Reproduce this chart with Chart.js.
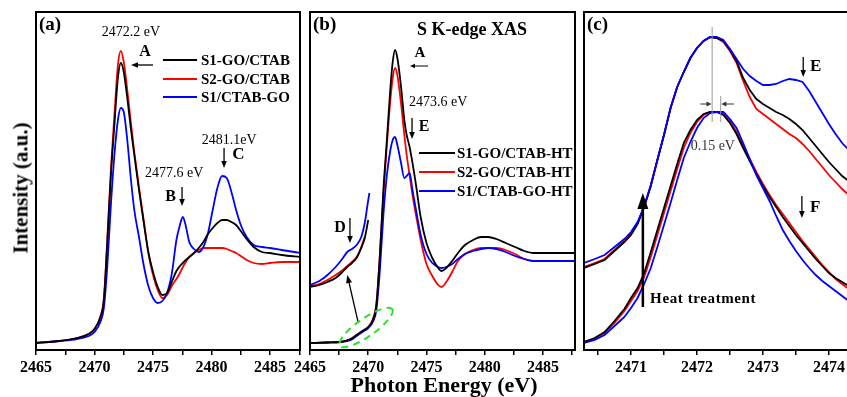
<!DOCTYPE html>
<html>
<head>
<meta charset="utf-8">
<script src="https://cdn.jsdelivr.net/npm/chart.js@4.4.0/dist/chart.umd.min.js"></script>
<style>
  html, body { margin: 0; padding: 0; background: #fff; }
  body { width: 847px; height: 397px; overflow: hidden; position: relative; }
  canvas { position: absolute; top: 0; }
  #ylab { position: absolute; left: 21px; top: 188px; transform: translate(-50%, -50%) rotate(-90deg);
          font: bold 21px "Liberation Serif", serif; white-space: nowrap; color: #000; }
  #xlab { position: absolute; left: 444px; top: 385px; transform: translate(-50%, -50%);
          font: bold 22px "Liberation Serif", serif; white-space: nowrap; color: #000; }
</style>
</head>
<body>
<canvas id="ca" width="310" height="397" style="left:0px"></canvas>
<canvas id="cb" width="295" height="397" style="left:290px"></canvas>
<canvas id="cc" width="300" height="397" style="left:570px"></canvas>
<div id="ylab">Intensity (a.u.)</div>
<div id="xlab">Photon Energy (eV)</div>
<script>
// panel (a) - as prepared
const energyA = [2465, 2467, 2468.5, 2469.5, 2470, 2470.5, 2470.8, 2471.1, 2471.4, 2471.7, 2472.0, 2472.25,
  2472.5, 2472.8, 2473.1, 2473.4, 2473.8, 2474.2, 2474.6, 2475.0, 2475.4, 2475.8, 2476.2, 2476.6, 2477.0,
  2477.3, 2477.55, 2477.8, 2478.1, 2478.5, 2478.9, 2479.3, 2479.7, 2480.1, 2480.5, 2480.9, 2481.3, 2481.7,
  2482.1, 2482.5, 2483.0, 2483.6, 2484.3, 2485.0, 2486.0, 2487.6];
const s1GoCtab = [0.07, 0.09, 0.12, 0.16, 0.21, 0.33, 0.50, 1.10, 1.75, 2.25, 2.72, 2.87, 2.78, 2.52, 2.22,
  1.95, 1.60, 1.28, 0.98, 0.78, 0.63, 0.55, 0.57, 0.68, 0.79, 0.84, 0.87, 0.90, 0.93, 0.97, 1.02, 1.08,
  1.16, 1.22, 1.27, 1.30, 1.30, 1.28, 1.25, 1.19, 1.11, 1.03, 0.98, 0.97, 0.95, 0.93];
const s2GoCtab = [0.07, 0.09, 0.12, 0.16, 0.21, 0.33, 0.52, 1.12, 1.80, 2.35, 2.85, 2.99, 2.88, 2.60, 2.28,
  1.98, 1.63, 1.30, 0.97, 0.75, 0.60, 0.52, 0.55, 0.64, 0.71, 0.77, 0.83, 0.88, 0.93, 0.97, 1.00, 1.02,
  1.02, 1.02, 1.02, 1.02, 1.01, 0.99, 0.97, 0.94, 0.90, 0.87, 0.86, 0.87, 0.88, 0.88];
const s1CtabGo = [0.07, 0.09, 0.11, 0.14, 0.18, 0.28, 0.42, 0.85, 1.45, 1.95, 2.30, 2.42, 2.38, 2.10, 1.72,
  1.40, 1.13, 0.85, 0.64, 0.52, 0.47, 0.49, 0.57, 0.76, 1.10, 1.25, 1.33, 1.24, 1.08, 1.01, 0.98, 1.03,
  1.17, 1.40, 1.62, 1.74, 1.72, 1.58, 1.40, 1.25, 1.13, 1.05, 1.03, 1.02, 1.00, 0.97];

// panel (b) - heat treated
const energyB = [2465, 2466.5, 2467.6, 2468.5, 2469.0, 2469.5, 2470.0, 2470.4, 2470.7, 2471.0, 2471.3, 2471.6,
  2471.9, 2472.1, 2472.3, 2472.5, 2472.8, 2473.1, 2473.3, 2473.55, 2473.8, 2474.1, 2474.5, 2475.0, 2475.5,
  2476.0, 2476.3, 2476.7, 2477.2, 2477.7, 2478.3, 2479.0, 2479.7, 2480.3, 2481.0, 2481.8, 2482.6, 2483.4,
  2484.2, 2485.0, 2486.0, 2487.7];
const s1GoCtabHT = [0.07, 0.075, 0.08, 0.11, 0.15, 0.19, 0.23, 0.30, 0.45, 0.95, 1.60, 2.10, 2.62, 2.88, 3.00,
  2.92, 2.65, 2.30, 2.15, 2.03, 1.87, 1.65, 1.33, 1.07, 0.92, 0.82, 0.79, 0.82, 0.89, 0.97, 1.05, 1.10, 1.13,
  1.13, 1.11, 1.07, 1.03, 0.99, 0.97, 0.97, 0.97, 0.97];
const s2GoCtabHT = [0.07, 0.075, 0.08, 0.11, 0.15, 0.19, 0.23, 0.31, 0.47, 0.95, 1.55, 2.05, 2.50, 2.72, 2.82,
  2.75, 2.48, 2.15, 1.95, 1.75, 1.55, 1.35, 1.10, 0.86, 0.74, 0.65, 0.63, 0.68, 0.78, 0.89, 0.96, 1.00, 1.02,
  1.02, 1.02, 1.00, 0.96, 0.91, 0.89, 0.89, null, null];
const s1CtabGoHT = [0.07, 0.075, 0.08, 0.10, 0.14, 0.18, 0.22, 0.28, 0.40, 0.80, 1.35, 1.75, 2.00, 2.10, 2.13,
  2.05, 1.88, 1.72, 1.74, 1.77, 1.60, 1.40, 1.15, 0.96, 0.87, 0.83, 0.82, 0.83, 0.86, 0.91, 0.96, 0.99, 1.01,
  1.02, 1.01, 0.98, 0.94, 0.91, 0.89, 0.89, 0.89, 0.89];
// pre-edge zoom (upper curves in b)
const energyPre = [2465, 2465.8, 2466.5, 2467.2, 2467.7, 2468.2, 2468.6, 2469.0, 2469.4, 2469.7, 2470.0, 2470.1];
const s1GoCtabHTPre = [0.63, 0.65, 0.68, 0.72, 0.77, 0.83, 0.87, 0.92, 1.02, 1.12, 1.30, null];
const s2GoCtabHTPre = [0.64, 0.66, 0.70, 0.75, 0.79, 0.84, 0.88, 0.93, 1.03, 1.13, null, null];
const s1CtabGoHTPre = [0.65, 0.69, 0.75, 0.83, 0.90, 0.98, 1.01, 1.05, 1.13, 1.27, 1.50, 1.57];

// panel (c) - white line region
const energyC = [2470.29, 2470.45, 2470.6, 2470.75, 2470.9,
  2471.0, 2471.1, 2471.2, 2471.3, 2471.4, 2471.5, 2471.6, 2471.7, 2471.8, 2471.9,
  2472.0, 2472.1, 2472.2, 2472.3, 2472.4, 2472.5, 2472.6, 2472.7, 2472.8, 2472.9,
  2473.0, 2473.1, 2473.2, 2473.3, 2473.4, 2473.5, 2473.6, 2473.7, 2473.8, 2473.9,
  2474.0, 2474.1, 2474.2, 2474.3];
const cBlackTop = [0.82, 0.86, 0.90, 0.99, 1.08, 1.15, 1.26, 1.43, 1.64, 1.90, 2.15, 2.42, 2.63, 2.78, 2.92,
  3.02, 3.09, 3.13, 3.12, 3.09, 3.00, 2.89, 2.72, 2.60, 2.51, 2.46, 2.42, 2.38, 2.35, 2.31, 2.26, 2.20, 2.12,
  2.04, 1.96, 1.88, 1.81, 1.74, 1.69];
const cRedTop = [0.83, 0.87, 0.91, 1.00, 1.09, 1.16, 1.27, 1.43, 1.64, 1.90, 2.15, 2.42, 2.63, 2.78, 2.92,
  3.02, 3.09, 3.13, 3.12, 3.08, 2.99, 2.87, 2.69, 2.53, 2.41, 2.36, 2.31, 2.26, 2.21, 2.16, 2.12, 2.06, 1.99,
  1.91, 1.83, 1.75, 1.68, 1.61, 1.55];
const cBlueTop = [0.87, 0.91, 0.95, 1.03, 1.11, 1.18, 1.28, 1.44, 1.65, 1.90, 2.15, 2.42, 2.63, 2.78, 2.92,
  3.02, 3.09, 3.13, 3.13, 3.10, 3.01, 2.91, 2.81, 2.74, 2.69, 2.65, 2.65, 2.66, 2.69, 2.71, 2.70, 2.68, 2.59,
  2.48, 2.37, 2.26, 2.16, 2.07, 2.00];
const cBlackLow = [0.08, 0.12, 0.18, 0.29, 0.41, 0.52, 0.62, 0.77, 0.98, 1.20, 1.42, 1.64, 1.86, 2.07, 2.20,
  2.30, 2.36, 2.38, 2.38, 2.35, 2.27, 2.16, 2.02, 1.89, 1.76, 1.64, 1.53, 1.43, 1.33, 1.24, 1.15, 1.07, 0.99,
  0.91, 0.84, 0.77, 0.72, 0.68, 0.64];
const cRedLow = [0.08, 0.11, 0.17, 0.27, 0.39, 0.49, 0.59, 0.73, 0.93, 1.15, 1.37, 1.59, 1.81, 2.02, 2.17,
  2.28, 2.35, 2.38, 2.38, 2.36, 2.29, 2.18, 2.04, 1.91, 1.78, 1.66, 1.55, 1.45, 1.36, 1.27, 1.18, 1.09, 1.01,
  0.93, 0.85, 0.78, 0.71, 0.66, 0.61];
const cBlueLow = [0.07, 0.10, 0.15, 0.24, 0.33, 0.42, 0.52, 0.66, 0.82, 1.03, 1.25, 1.47, 1.70, 1.92, 2.08,
  2.22, 2.32, 2.37, 2.38, 2.38, 2.31, 2.22, 2.07, 1.91, 1.75, 1.62, 1.49, 1.34, 1.20, 1.09, 0.99, 0.90, 0.82,
  0.75, 0.69, 0.64, 0.59, 0.54, 0.49];

const majorTicksAB = [2465, 2470, 2475, 2480, 2485];
const majorTicksC = [2471, 2472, 2473, 2474];
const labelsA = ['S1-GO/CTAB', 'S2-GO/CTAB', 'S1/CTAB-GO'];
const labelsB = ['S1-GO/CTAB-HT', 'S2-GO/CTAB-HT', 'S1/CTAB-GO-HT'];

const BLACK = '#000000', RED = '#ff0000', BLUE = '#0000ff';
const SERIF = '"Liberation Serif", "Times New Roman", serif';
const COLORS = [BLACK, RED, BLUE];

const pts = (xs, ys) => xs.map((x, i) => ({ x: x, y: ys[i] }));

function series(label, xs, ys, color, order, tension) {
  return {
    label: label, data: pts(xs, ys), borderColor: color, backgroundColor: color,
    borderWidth: 1.8, pointRadius: 0, fill: false, order: order,
    tension: tension, cubicInterpolationMode: tension ? 'monotone' : 'default'
  };
}

// annotations, placed in data units (eV, intensity)
const notes = {
  ca: {
    tag: '(a)',
    legend: { labels: labelsA, x1: 2475.85, x2: 2478.76, tx: 2479.1, ys: [2.90, 2.71, 2.53] },
    items: [
      { t: 'text', x: 2473.12, y: 3.18, s: '2472.2 eV', f: '14px' },
      { t: 'text', x: 2474.32, y: 2.98, s: 'A', f: 'bold 16px' },
      { t: 'arrow', x1: 2475.0, y1: 2.85, x2: 2473.12, y2: 2.85 },
      { t: 'text', x: 2476.8, y: 1.77, s: '2477.6 eV', f: '14px' },
      { t: 'text', x: 2476.5, y: 1.53, s: 'B', f: 'bold 16px' },
      { t: 'arrow', x1: 2477.48, y1: 1.63, x2: 2477.48, y2: 1.44 },
      { t: 'text', x: 2481.5, y: 2.10, s: '2481.1eV', f: '14px' },
      { t: 'arrow', x1: 2481.07, y1: 2.02, x2: 2481.07, y2: 1.82 },
      { t: 'text', x: 2482.3, y: 1.95, s: 'C', f: 'bold 17px' }
    ]
  },
  cb: {
    tag: '(b)',
    legend: { labels: labelsB, x1: 2474.36, x2: 2477.45, tx: 2477.62, ys: [1.97, 1.78, 1.59] },
    items: [
      { t: 'text', x: 2478.9, y: 3.20, s: 'S K-edge XAS', f: 'bold 18px' },
      { t: 'text', x: 2474.44, y: 2.97, s: 'A', f: 'bold 15px' },
      { t: 'arrow', x1: 2475.13, y1: 2.84, x2: 2473.58, y2: 2.84, hl: 5, hw: 2.2, lw: 1 },
      { t: 'text', x: 2476.0, y: 2.48, s: '2473.6 eV', f: '14px' },
      { t: 'arrow', x1: 2473.76, y1: 2.32, x2: 2473.76, y2: 2.11 },
      { t: 'text', x: 2474.79, y: 2.23, s: 'E', f: 'bold 16px' },
      { t: 'text', x: 2467.58, y: 1.22, s: 'D', f: 'bold 16px' },
      { t: 'arrow', x1: 2468.43, y1: 1.32, x2: 2468.43, y2: 1.07 },
      { t: 'arrow', x1: 2469.12, y1: 0.283, x2: 2468.2, y2: 0.75, hl: 8, hw: 3 },
      { t: 'ellipse', x: 2469.81, y: 0.225, rx: 32, ry: 9, rot: -0.61 }
    ]
  },
  cc: {
    tag: '(c)',
    items: [
      { t: 'vline', x: 2472.23, y1: 3.23, y2: 2.28 },
      { t: 'vline', x: 2472.36, y1: 2.54, y2: 2.28 },
      { t: 'arrow', x1: 2472.05, y1: 2.46, x2: 2472.22, y2: 2.46, hl: 5, hw: 2.5, lw: 1, c: '#333' },
      { t: 'arrow', x1: 2472.56, y1: 2.46, x2: 2472.37, y2: 2.46, hl: 5, hw: 2.5, lw: 1, c: '#333' },
      { t: 'text', x: 2472.24, y: 2.04, s: '0.15 eV', f: '14px', c: '#333' },
      { t: 'arrow', x1: 2473.61, y1: 2.93, x2: 2473.61, y2: 2.73 },
      { t: 'text', x: 2473.8, y: 2.83, s: 'E', f: 'bold 17px' },
      { t: 'arrow', x1: 2473.59, y1: 1.54, x2: 2473.59, y2: 1.32 },
      { t: 'text', x: 2473.79, y: 1.42, s: 'F', f: 'bold 17px' },
      { t: 'arrow', x1: 2471.18, y1: 0.43, x2: 2471.18, y2: 1.57, hl: 16, hw: 5.5, lw: 2.5 },
      { t: 'text', x: 2471.29, y: 0.51, s: 'Heat treatment', f: 'bold 15px', a: 'left', sp: '0.6px' }
    ]
  }
};

function drawArrow(ctx, x1, y1, x2, y2, lw, hl, hw) {
  const ang = Math.atan2(y2 - y1, x2 - x1), c = Math.cos(ang), s = Math.sin(ang);
  ctx.lineWidth = lw;
  ctx.beginPath();
  ctx.moveTo(x1, y1);
  ctx.lineTo(x2 - c * hl * 0.7, y2 - s * hl * 0.7);
  ctx.stroke();
  ctx.beginPath();
  ctx.moveTo(x2, y2);
  ctx.lineTo(x2 - hl * c + hw * s, y2 - hl * s - hw * c);
  ctx.lineTo(x2 - hl * c - hw * s, y2 - hl * s + hw * c);
  ctx.closePath();
  ctx.fill();
}

const notesPlugin = {
  id: 'notes',
  afterDraw(chart) {
    const n = notes[chart.canvas.id];
    const ctx = chart.ctx, a = chart.chartArea;
    const X = v => chart.scales.x.getPixelForValue(v);
    const Y = v => chart.scales.y.getPixelForValue(v);
    ctx.save();
    ctx.strokeStyle = '#000';
    ctx.lineWidth = 2;
    ctx.strokeRect(a.left, a.top, a.right - a.left, a.bottom - a.top);

    ctx.fillStyle = '#000';
    ctx.textBaseline = 'middle';
    ctx.textAlign = 'left';
    ctx.font = 'bold 19px ' + SERIF;
    ctx.fillText(n.tag, a.left + 3, a.top + 13);

    if (n.legend) {
      const L = n.legend;
      ctx.font = 'bold 15px ' + SERIF;
      L.labels.forEach((lab, i) => {
        ctx.strokeStyle = COLORS[i];
        ctx.lineWidth = 2;
        ctx.beginPath();
        ctx.moveTo(X(L.x1), Y(L.ys[i]));
        ctx.lineTo(X(L.x2), Y(L.ys[i]));
        ctx.stroke();
        ctx.fillStyle = '#000';
        ctx.fillText(lab, X(L.tx), Y(L.ys[i]) + 1);
      });
    }

    for (const it of n.items) {
      const col = it.c || '#000';
      ctx.strokeStyle = col;
      ctx.fillStyle = col;
      if (it.t === 'text') {
        ctx.font = it.f + ' ' + SERIF;
        ctx.textAlign = it.a || 'center';
        ctx.letterSpacing = it.sp || '0px';
        ctx.fillText(it.s, X(it.x), Y(it.y));
        ctx.letterSpacing = '0px';
      } else if (it.t === 'arrow') {
        drawArrow(ctx, X(it.x1), Y(it.y1), X(it.x2), Y(it.y2), it.lw || 1.3, it.hl || 7, it.hw || 2.8);
      } else if (it.t === 'vline') {
        ctx.strokeStyle = '#999';
        ctx.lineWidth = 1;
        ctx.beginPath();
        ctx.moveTo(X(it.x), Y(it.y1));
        ctx.lineTo(X(it.x), Y(it.y2));
        ctx.stroke();
      } else if (it.t === 'ellipse') {
        ctx.strokeStyle = '#2ee02e';
        ctx.lineWidth = 2;
        ctx.setLineDash([7, 5]);
        ctx.beginPath();
        ctx.ellipse(X(it.x), Y(it.y), it.rx, it.ry, it.rot, 0, Math.PI * 2);
        ctx.stroke();
        ctx.setLineDash([]);
      }
    }
    ctx.restore();
  }
};

function makeChart(id, datasets, xmin, xmax, step, majors, padL, padR) {
  return new Chart(document.getElementById(id), {
    type: 'line',
    data: { datasets: datasets },
    options: {
      responsive: false,
      animation: false,
      layout: { padding: { left: padL, right: padR, top: 12, bottom: 0 } },
      plugins: { legend: { display: false }, tooltip: { enabled: false } },
      scales: {
        x: {
          type: 'linear', min: xmin, max: xmax,
          afterFit: s => { s.height = 47; },
          grid: { drawOnChartArea: false, drawTicks: true, tickLength: 5, color: '#000', lineWidth: 1.5 },
          border: { display: true, color: '#000', width: 2 },
          ticks: {
            stepSize: step, includeBounds: false, autoSkip: false, maxRotation: 0, padding: 3,
            color: '#000', font: { family: SERIF, size: 16, weight: 'bold' },
            callback: v => majors.includes(v) ? String(v) : ''
          }
        },
        y: { display: false, min: 0, max: 3.38 }
      }
    },
    plugins: [notesPlugin]
  });
}

makeChart('ca', [
  series(labelsA[0], energyA, s1GoCtab, BLACK, 1, 0.4),
  series(labelsA[1], energyA, s2GoCtab, RED, 3, 0.4),
  series(labelsA[2], energyA, s1CtabGo, BLUE, 2, 0.4)
], 2465, 2487.56, 2.5, majorTicksAB, 36, 10);

makeChart('cb', [
  series(labelsB[0], energyB, s1GoCtabHT, BLACK, 1, 0.4),
  series(labelsB[1], energyB, s2GoCtabHT, RED, 3, 0.4),
  series(labelsB[2], energyB, s1CtabGoHT, BLUE, 2, 0.4),
  series(labelsB[0], energyPre, s1GoCtabHTPre, BLACK, 1, 0.4),
  series(labelsB[1], energyPre, s2GoCtabHTPre, RED, 3, 0.4),
  series(labelsB[2], energyPre, s1CtabGoHTPre, BLUE, 2, 0.4)
], 2465, 2487.75, 2.5, majorTicksAB, 20, 10);

makeChart('cc', [
  series(labelsB[0], energyC, cBlackTop, BLACK, 2, 0),
  series(labelsB[1], energyC, cRedTop, RED, 3, 0),
  series(labelsB[2], energyC, cBlueTop, BLUE, 1, 0),
  series(labelsA[0], energyC, cBlackLow, BLACK, 2, 0),
  series(labelsA[1], energyC, cRedLow, RED, 3, 0),
  series(labelsA[2], energyC, cBlueLow, BLUE, 1, 0)
], 2470.288, 2474.41, 0.5, majorTicksC, 14, 14);
</script>
</body>
</html>
